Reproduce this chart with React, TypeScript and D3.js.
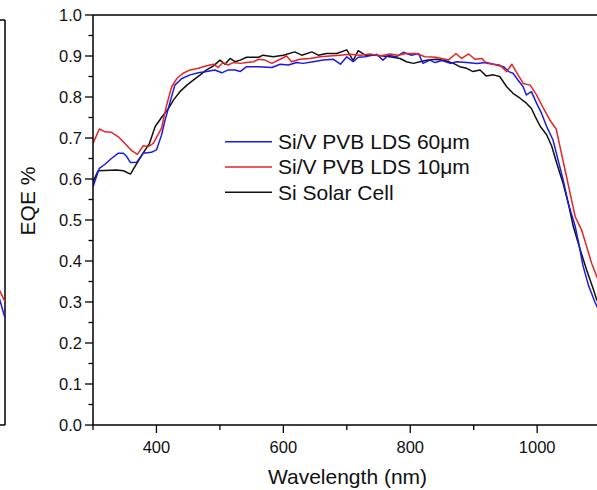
import React from "react";
import * as d3 from "d3";

// ---- Data ----
const blueWl = [300,310,319,329,340,348,353,359,369,379,392,400,408,413,421,429,440,453,466,479,492,503,513,524,532,542,561,582,595,608,621,631,647,663,679,690,700,710,718,729,747,757,765,778,789,802,813,820,831,839,850,863,873,889,905,920,931,947,955,962,970,978,983,991,999,1007,1015,1025,1033,1041,1049,1060,1066,1072,1081,1091,1100];
const blueEqe = [0.581,0.626,0.636,0.650,0.663,0.663,0.655,0.640,0.641,0.663,0.665,0.671,0.707,0.740,0.785,0.829,0.845,0.854,0.859,0.862,0.866,0.859,0.866,0.866,0.862,0.874,0.874,0.872,0.880,0.878,0.884,0.882,0.886,0.890,0.892,0.880,0.898,0.886,0.897,0.898,0.904,0.890,0.902,0.898,0.909,0.902,0.906,0.882,0.890,0.884,0.889,0.882,0.886,0.884,0.882,0.884,0.880,0.874,0.862,0.858,0.841,0.825,0.805,0.813,0.785,0.760,0.728,0.695,0.646,0.598,0.541,0.484,0.440,0.390,0.340,0.300,0.270];

const redWl = [300,310,319,329,340,350,361,370,379,387,395,408,416,424,432,442,453,466,479,490,497,505,513,521,532,542,553,561,571,582,595,605,613,626,642,658,673,689,705,721,737,752,768,781,794,810,823,841,860,872,881,892,902,913,920,931,941,952,960,968,978,989,999,1010,1020,1030,1036,1044,1052,1060,1070,1078,1086,1094,1100];
const redEqe = [0.687,0.722,0.715,0.714,0.703,0.687,0.669,0.660,0.681,0.679,0.687,0.724,0.780,0.825,0.845,0.858,0.866,0.870,0.876,0.880,0.872,0.884,0.878,0.884,0.882,0.884,0.886,0.892,0.890,0.882,0.892,0.900,0.886,0.892,0.894,0.898,0.900,0.902,0.904,0.902,0.905,0.900,0.905,0.902,0.906,0.906,0.898,0.897,0.890,0.906,0.894,0.905,0.892,0.894,0.882,0.880,0.878,0.862,0.880,0.859,0.833,0.829,0.805,0.772,0.744,0.722,0.679,0.622,0.565,0.508,0.476,0.435,0.394,0.362,0.340];

const blackWl = [300,308,337,348,359,369,379,389,398,408,419,427,437,448,458,469,479,490,500,508,516,524,532,542,561,568,584,600,618,629,645,655,668,684,700,710,718,729,747,768,784,794,805,815,828,841,855,868,878,889,899,910,920,931,941,952,962,973,983,991,997,1005,1015,1023,1031,1041,1049,1057,1068,1078,1089,1094,1100];
const blackEqe = [0.593,0.620,0.622,0.620,0.612,0.638,0.663,0.687,0.728,0.750,0.772,0.793,0.813,0.829,0.841,0.854,0.866,0.876,0.890,0.880,0.894,0.886,0.890,0.897,0.897,0.902,0.898,0.902,0.910,0.902,0.910,0.902,0.906,0.906,0.915,0.889,0.913,0.902,0.902,0.898,0.894,0.886,0.882,0.886,0.890,0.892,0.889,0.882,0.874,0.870,0.862,0.866,0.851,0.854,0.850,0.825,0.809,0.797,0.785,0.772,0.752,0.728,0.708,0.680,0.638,0.589,0.541,0.484,0.427,0.378,0.329,0.305,0.290];

const seriesNames = ["Si/V PVB LDS 60μm", "Si/V PVB LDS 10μm", "Si Solar Cell"];
const seriesColors = ["#1a1ae6", "#e42424", "#111111"];

const xMajorTicks = [400, 600, 800, 1000];
const xMinorTicks = [300, 500, 700, 900];
const yMajorTicks = [0, 0.1, 0.2, 0.3, 0.4, 0.5, 0.6, 0.7, 0.8, 0.9, 1.0];

// Neighbouring panel fragment at left edge (cropped)
const neighborWl = [1090, 1100];
const neighborRed = [0.346, 0.304];
const neighborBlue = [0.333, 0.264];

const W = 597;
const H = 490;
const FONT = "'Liberation Sans', Arial, Helvetica, sans-serif";

export default function App() {
  const left = 93, top = 15, bottom = 425;
  const x = d3.scaleLinear().domain([300, 1100]).range([left, left + 800 * 0.6345]);
  const y = d3.scaleLinear().domain([0, 1]).range([bottom, top]);

  const line = d3.line<[number, number]>().x(d => x(d[0])).y(d => y(d[1]));
  const series = [
    blueWl.map((w, i) => [w, blueEqe[i]] as [number, number]),
    redWl.map((w, i) => [w, redEqe[i]] as [number, number]),
    blackWl.map((w, i) => [w, blackEqe[i]] as [number, number]),
  ];

  // neighbour panel scales
  const nx = d3.scaleLinear().domain([1090, 1100]).range([-3, 5]);
  const ny = d3.scaleLinear().domain([0, 1]).range([425, 20]);
  const nLine = d3.line<[number, number]>().x(d => nx(d[0])).y(d => ny(d[1]));

  const yMinor = d3.range(0.05, 1.0, 0.1);

  return (
    <svg width={W} height={H} style={{ position: "absolute", left: 0, top: 0, background: "#fff" }} fontFamily={FONT}>
      <defs>
        <clipPath id="plotclip">
          <rect x={left} y={top - 5} width={W - left} height={bottom - top + 5} />
        </clipPath>
      </defs>
      <rect x={0} y={0} width={W} height={H} fill="#fff" />

      {/* neighbour fragment */}
      <g>
        <line x1={nx(1100)} x2={nx(1100)} y1={ny(1)} y2={ny(0)} stroke="#000" strokeWidth={1.5} />
        <line x1={0} x2={nx(1100)} y1={ny(1)} y2={ny(1)} stroke="#000" strokeWidth={1.5} />
        <line x1={0} x2={nx(1100)} y1={ny(0)} y2={ny(0)} stroke="#000" strokeWidth={1.5} />
        <path d={nLine(neighborWl.map((w, i) => [w, neighborRed[i]] as [number, number])) || ""} fill="none" stroke={seriesColors[1]} strokeWidth={1.5} />
        <path d={nLine(neighborWl.map((w, i) => [w, neighborBlue[i]] as [number, number])) || ""} fill="none" stroke={seriesColors[0]} strokeWidth={1.5} />
      </g>

      {/* data lines */}
      <g clipPath="url(#plotclip)">
        {[2, 0, 1].map(k => (
          <path key={k} d={line(series[k]) || ""} fill="none" stroke={seriesColors[k]} strokeWidth={1.5} strokeLinejoin="round" />
        ))}
      </g>

      {/* frame */}
      <line x1={left} x2={W} y1={top} y2={top} stroke="#000" strokeWidth={1.5} />
      <line x1={left} x2={left} y1={top} y2={bottom} stroke="#000" strokeWidth={1.5} />
      <line x1={left} x2={W} y1={bottom} y2={bottom} stroke="#000" strokeWidth={1.5} />

      {/* y ticks */}
      {yMajorTicks.map(t => (
        <g key={t}>
          <line x1={left - 8} x2={left} y1={y(t)} y2={y(t)} stroke="#000" strokeWidth={1.3} />
          <text x={left - 11} y={y(t)} dy="0.35em" textAnchor="end" fontSize={16.5} fill="#111">{t.toFixed(1)}</text>
        </g>
      ))}
      {yMinor.map(t => (
        <line key={t} x1={left - 4.5} x2={left} y1={y(t)} y2={y(t)} stroke="#000" strokeWidth={1.3} />
      ))}

      {/* x ticks */}
      {xMajorTicks.map(t => (
        <g key={t}>
          <line x1={x(t)} x2={x(t)} y1={bottom} y2={bottom + 8} stroke="#000" strokeWidth={1.3} />
          <text x={x(t)} y={453} textAnchor="middle" fontSize={16.5} fill="#111">{t}</text>
        </g>
      ))}
      {xMinorTicks.map(t => (
        <line key={t} x1={x(t)} x2={x(t)} y1={bottom} y2={bottom + 5} stroke="#000" strokeWidth={1.3} />
      ))}

      {/* axis titles */}
      <text x={347.5} y={484} textAnchor="middle" fontSize={21} fill="#111">Wavelength (nm)</text>
      <text transform="translate(35,201) rotate(-90)" textAnchor="middle" fontSize={21} fill="#111">EQE %</text>

      {/* legend */}
      {seriesNames.map((name, i) => {
        const ly = 141.7 + i * 25.3;
        return (
          <g key={name}>
            <line x1={225} x2={272} y1={ly} y2={ly} stroke={seriesColors[i]} strokeWidth={1.5} />
            <text x={278} y={ly} dy="0.35em" fontSize={21} fill="#111">{name}</text>
          </g>
        );
      })}
    </svg>
  );
}
